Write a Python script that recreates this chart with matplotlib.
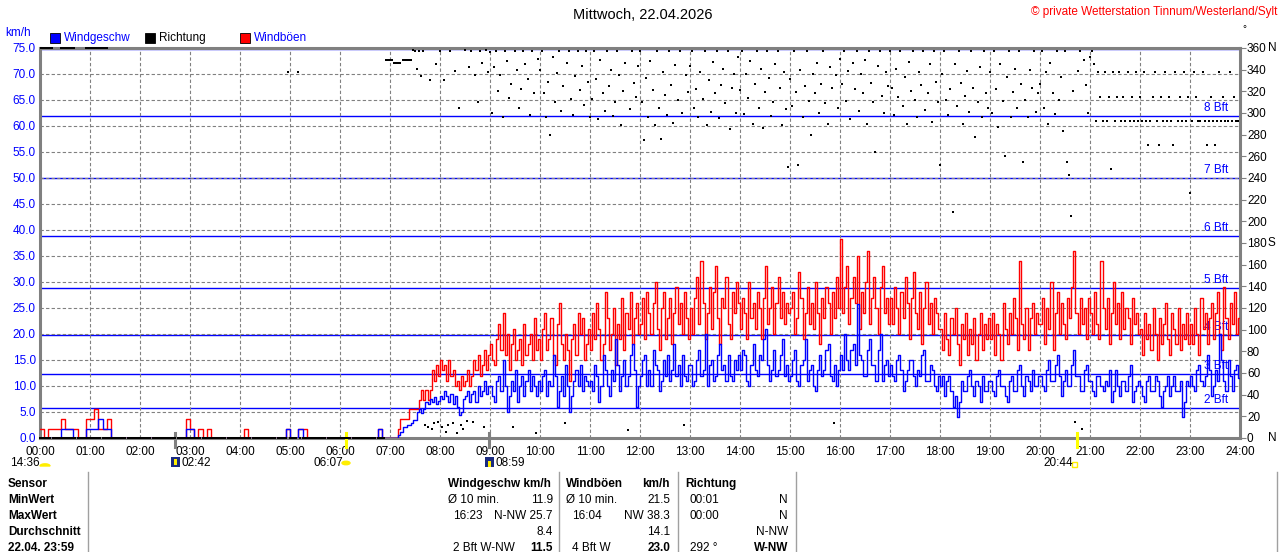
import numpy as np
import matplotlib
matplotlib.use("Agg")
import matplotlib.pyplot as plt
from matplotlib.lines import Line2D
from matplotlib.patches import Rectangle, Circle, Wedge
from matplotlib import transforms

plt.rcParams['font.family'] = ['Liberation Sans', 'DejaVu Sans']
plt.rcParams['lines.scale_dashes'] = False

# === data: values per hour (km/h), evenly spaced inside each hour ===
# night hours at 5 minutes, day hours at 2.5 minutes
wind_rows = [
    [0, 0, 0, 0, 0, 1.8, 1.8, 1.8, 0, 0, 0, 1.8],
    [1.8, 1.8, 3.7, 1.8, 1.8, 0, 0, 0, 0, 0, 0, 0],
    [0, 0, 0, 0, 0, 0, 0, 0, 0, 0, 0, 1.8],
    [1.8, 0, 0, 0, 0, 0, 0, 0, 0, 0, 0, 0],
    [0, 0, 0, 0, 0, 0, 0, 0, 0, 0, 0, 1.8],
    [0, 0, 1.8, 0, 0, 0, 0, 0, 0, 0, 0, 0],
    [0, 0, 0, 0, 0, 0, 0, 0, 0, 1.8, 0, 0],
    [0, 0, 0, 0, 0.5, 1.2, 2.2, 2.2, 2.5, 2.5, 2.8, 3.5, 3.5, 5.0, 5.5, 4.8, 5.5, 7.0, 6.5, 7.5, 7.0, 7.8, 6.5, 7.2],
    [8, 7.5, 9, 8, 7, 8.5, 6.5, 8, 6, 4.5, 5, 7.5, 8, 9, 7, 8.5, 9, 7, 10, 8, 9, 11, 8.5, 10],
    [10, 8, 7, 11, 12, 9, 15, 10, 5, 8, 11, 9, 13, 7, 10, 12, 8, 11, 13, 9, 12, 10, 8, 11],
    [9, 12, 13, 8, 11, 10, 16, 12, 6, 9, 12, 8, 14, 10, 5, 8, 11, 13, 10, 14, 9, 12, 11, 10],
    [11, 9, 14, 12, 7, 10, 16, 13, 10, 8, 13, 11, 19, 14, 9, 12, 15, 10, 12, 16, 18, 13, 6, 10],
    [12, 15, 16, 10, 13, 10, 17, 14, 13, 9, 11, 15, 12, 16, 11, 13, 18, 12, 14, 10, 16, 12, 11, 14],
    [14, 10, 11, 15, 17, 12, 13, 20, 10, 14, 15, 11, 12, 16, 18, 13, 14, 11, 16, 12, 11, 15, 13, 16],
    [13, 17, 16, 11, 10, 14, 18, 13, 12, 16, 15, 19, 21, 14, 11, 13, 17, 12, 13, 16, 19, 12, 14, 11],
    [12, 15, 17, 11, 10, 14, 15, 19, 11, 13, 14, 10, 9, 13, 16, 12, 13, 17, 18, 12, 11, 14, 10, 13],
    [16, 13, 20, 15, 13, 17, 18, 14, 25.7, 16, 15, 12, 12, 17, 19, 14, 14, 11, 17, 20, 11, 14, 15, 12],
    [14, 12, 11, 15, 16, 13, 9, 11, 13, 15, 15, 12, 10, 13, 12, 16, 17, 11, 11, 14, 13, 10, 9, 12],
    [10, 12, 8, 11, 12, 9, 6, 8, 4, 7, 11, 9, 9, 12, 13, 10, 8, 11, 10, 7, 12, 9, 9, 11],
    [11, 9, 8, 12, 13, 10, 10, 8, 7, 11, 12, 9, 9, 13, 14, 10, 8, 12, 11, 9, 13, 10, 10, 12],
    [12, 10, 9, 13, 15, 11, 11, 14, 16, 12, 8, 11, 13, 10, 10, 14, 17, 12, 12, 9, 9, 13, 14, 11],
    [11, 9, 8, 12, 12, 10, 9, 11, 10, 13, 7, 9, 13, 10, 8, 11, 11, 9, 12, 14, 7, 9, 10, 11],
    [10, 8, 7, 11, 12, 9, 9, 12, 11, 8, 6, 9, 10, 12, 8, 10, 12, 9, 9, 11, 4, 7, 11, 10],
    [12, 10, 9, 13, 14, 11, 10, 12, 16, 13, 8, 10, 13, 11, 20, 15, 11, 9, 15, 12, 9, 13, 14, 11.5],
]

gust_rows = [
    [1.8, 0, 1.8, 1.8, 1.8, 3.7, 1.8, 1.8, 1.8, 0, 0, 3.7],
    [3.7, 5.5, 1.8, 1.8, 3.7, 0, 0, 0, 0, 0, 0, 0],
    [0, 0, 0, 0, 0, 0, 0, 0, 0, 0, 0, 3.7],
    [1.8, 0, 1.8, 0, 1.8, 0, 0, 0, 0, 0, 0, 0],
    [0, 1.8, 0, 0, 0, 0, 0, 0, 0, 0, 0, 1.8],
    [0, 0, 1.8, 1.8, 0, 0, 0, 0, 0, 0, 0, 0],
    [0, 0, 0, 0, 0, 0, 0, 0, 0, 1.8, 0, 0],
    [0, 0, 0, 0, 1.8, 3.7, 3.7, 3.7, 3.7, 5.5, 5.5, 5.5, 5.5, 5.5, 7.4, 9.2, 7.4, 9.2, 7.4, 9.2, 13, 11, 14, 12],
    [15, 13, 14, 11, 15, 12, 13, 10, 11, 9.2, 12, 10, 11, 13, 10, 12, 15, 13, 16, 12, 14, 17, 13, 16],
    [18, 15, 14, 19, 22, 17, 24, 16, 20, 13, 18, 21, 15, 17, 19, 14, 22, 16, 18, 20, 15, 23, 17, 19],
    [15, 21, 24, 17, 19, 23, 16, 14, 22, 26, 18, 15, 20, 17, 11, 19, 22, 16, 24, 20, 23, 15, 18, 21],
    [17, 24, 19, 26, 21, 15, 18, 28, 23, 17, 20, 25, 14, 22, 19, 27, 17, 24, 21, 28, 18, 23, 26, 20],
    [22, 27, 19, 28, 24, 20, 26, 30, 21, 17, 25, 28, 19, 23, 27, 18, 24, 29, 22, 26, 20, 28, 23, 19],
    [25, 20, 27, 31, 22, 34, 26, 19, 24, 29, 21, 28, 33, 23, 18, 27, 25, 31, 22, 19, 28, 24, 30, 26],
    [21, 27, 24, 19, 30, 23, 26, 21, 28, 25, 19, 27, 33, 22, 25, 29, 20, 26, 31, 23, 28, 22, 26, 24],
    [25, 28, 20, 23, 32, 27, 19, 24, 29, 22, 26, 21, 30, 24, 18, 27, 23, 29, 26, 20, 28, 23, 31, 25],
    [38.3, 24, 29, 33, 22, 27, 31, 26, 35, 21, 28, 24, 30, 36, 22, 27, 31, 25, 20, 29, 33, 24, 27, 22],
    [27, 22, 29, 25, 20, 28, 23, 31, 26, 19, 27, 32, 24, 21, 28, 18, 25, 30, 22, 26, 20, 27, 24, 21],
    [21, 17, 24, 19, 16, 23, 20, 25, 18, 14, 22, 19, 24, 16, 21, 18, 23, 15, 20, 24, 17, 22, 19, 23],
    [19, 24, 16, 22, 20, 15, 26, 21, 18, 24, 20, 27, 23, 17, 34, 22, 19, 25, 17, 23, 26, 20, 24, 22],
    [22, 27, 18, 25, 21, 30, 17, 24, 28, 20, 26, 22, 19, 27, 23, 29, 36, 24, 20, 27, 22, 25, 19, 27],
    [24, 20, 28, 22, 19, 34, 25, 21, 27, 18, 24, 30, 22, 26, 19, 28, 21, 25, 23, 18, 27, 22, 24, 20],
    [21, 16, 24, 19, 22, 17, 25, 20, 15, 23, 18, 22, 26, 19, 16, 24, 21, 18, 25, 17, 22, 19, 24, 18],
    [22, 18, 25, 20, 16, 27, 21, 24, 18, 23, 26, 19, 24, 28, 20, 17, 29, 23, 19, 26, 22, 28, 20, 23],
]

# direction in degrees, 2.5-minute values per hour
Z = 0
dir_rows = [
    [Z] * 24, [Z] * 24, [Z] * 24, [Z] * 24,
    [Z] * 23 + [338],
    [Z, Z, Z, Z, 338] + [Z] * 19,
    [Z] * 22 + [349, 349],
    [349, 349, 346, 346, 346, 346, 349, 349, 349, 349, 349, 358, 357, 341, 357, 334, 357, 12, 10, 330, 8, 14, 345, 15],
    [357, 10, 330, 6, 12, 357, 14, 339, 5, 305, 12, 8, 358, 16, 342, 357, 15, 335, 310, 357, 346, 10, 358, 338],
    [356, 300, 342, 357, 320, 335, 296, 357, 348, 314, 327, 10, 357, 340, 305, 322, 357, 345, 331, 298, 357, 318, 5, 350],
    [340, 357, 318, 296, 329, 280, 352, 310, 337, 357, 302, 325, 14, 346, 357, 313, 298, 334, 357, 321, 343, 307, 357, 329],
    [296, 313, 357, 331, 294, 349, 318, 302, 357, 325, 340, 297, 310, 357, 335, 289, 320, 346, 7, 304, 357, 328, 315, 343],
    [357, 310, 275, 332, 296, 348, 321, 289, 357, 305, 276, 338, 317, 298, 357, 326, 291, 344, 312, 357, 300, 12, 335, 319],
    [343, 357, 305, 322, 296, 338, 313, 357, 289, 330, 301, 347, 318, 357, 295, 326, 341, 309, 357, 285, 323, 336, 300, 352],
    [321, 357, 299, 336, 314, 348, 290, 327, 357, 305, 341, 286, 319, 357, 332, 297, 310, 345, 357, 323, 289, 338, 304, 250],
    [331, 306, 357, 319, 252, 340, 296, 325, 357, 311, 280, 336, 318, 346, 300, 327, 357, 309, 290, 342, 323, 14, 335, 305],
    [350, 327, 357, 311, 339, 294, 346, 322, 357, 302, 336, 318, 349, 290, 357, 328, 310, 264, 343, 357, 316, 300, 338, 325],
    [357, 323, 298, 341, 315, 357, 306, 333, 290, 347, 320, 357, 312, 296, 338, 326, 357, 303, 318, 345, 292, 357, 329, 310],
    [252, 336, 357, 312, 298, 322, 209, 345, 306, 357, 328, 290, 316, 339, 301, 357, 323, 278, 310, 342, 296, 357, 318, 305],
    [338, 300, 357, 322, 287, 345, 311, 260, 333, 357, 296, 319, 341, 305, 357, 327, 255, 312, 296, 340, 323, 357, 301, 318],
    [327, 357, 305, 338, 290, 346, 318, 299, 357, 312, 333, 283, 357, 255, 243, 205, 320, 15, 339, 357, 8, 349, 326, 300],
    [352, 357, 345, 292.5, 337.5, 315, 292.5, 337.5, 292.5, 315, 248, 337.5, 292.5, 315, 337.5, 292.5, 315, 292.5, 337.5, 292.5, 315, 292.5, 337.5, 292.5],
    [315, 292.5, 337.5, 292.5, 270, 292.5, 315, 337.5, 292.5, 270, 315, 292.5, 337.5, 292.5, 315, 292.5, 270, 337.5, 292.5, 315, 292.5, 337.5, 292.5, 315],
    [226, 292.5, 337.5, 315, 292.5, 292.5, 337.5, 292.5, 270, 292.5, 315, 292.5, 270, 292.5, 337.5, 292.5, 315, 292.5, 292.5, 337.5, 292.5, 315, 292.5, 292.5],
]
# minutes of the night when direction also showed 360
dir_top_night = [(0, 16), (24, 42), (54, 82)]

# beaufort lower bounds (km/h) and labels
bft_bounds = [5.76, 12.24, 19.8, 28.8, 38.88, 50.04, 61.92, 74.88]
bft_labels = ["2 Bft", "3 Bft", "4 Bft", "5 Bft", "6 Bft", "7 Bft", "8 Bft", ""]

hour_labels = ["%02d:00" % h for h in range(25)]
astro_marks = [(162, "gray"), (539, "gray"), (367, "yellow"), (1244, "yellow")]

# table texts
row_names = ["Sensor", "MinWert", "MaxWert", "Durchschnitt", "22.04. 23:59"]
wind_left = ["Ø 10 min.", "16:23", "", "2 Bft W-NW"]
wind_right = ["11.9", "N-NW 25.7", "8.4", "11.5"]
gust_left = ["Ø 10 min.", "16:04", "", "4 Bft W"]
gust_right = ["21.5", "NW 38.3", "14.1", "23.0"]
dir_left = ["00:01", "00:00", "", "292 °"]
dir_right = ["N", "N", "N-NW", "W-NW"]


def series(rows):
    t, v = [], []
    for h, r in enumerate(rows):
        n = len(r)
        t.extend(h * 60 + np.arange(n) * 60.0 / n)
        v.extend(r)
    return np.array(t), np.array(v, dtype=float)


t_wind, wind = series(wind_rows)
t_gust, gust = series(gust_rows)
t_dir, direc = series(dir_rows)

W, H = 1280, 552
def fx(x): return x / W
def fy(y): return 1 - y / H

BLUE = "#0000ff"
RED = "#ff0000"
GRAY = "#808080"
FS = 8.5

fig = plt.figure(figsize=(12.8, 5.52), dpi=100)
ax = fig.add_axes([fx(40), fy(438), 1200 / W, 390 / H])
ax.set_xlim(0, 1440)
ax.set_ylim(0, 75)

ax.set_xticks(np.arange(0, 1441, 60))
ax.set_xticklabels(hour_labels, fontsize=FS)
ax.set_yticks(np.arange(0, 75.1, 5))
ax.set_yticklabels(["%.1f" % v for v in np.arange(0, 75.1, 5)], fontsize=FS, color=BLUE)
ax.tick_params(axis="both", length=0, pad=3)
ax.tick_params(axis="x", pad=6)
ax.grid(True, color=GRAY, lw=0.8, linestyle=(0, (2.4, 1.6)))
for s in ax.spines.values():
    s.set_color(GRAY)
    s.set_linewidth(2.2)

for b, lab in zip(bft_bounds, bft_labels):
    ax.axhline(b, color=BLUE, lw=1.0, zorder=1.5)
    if lab:
        ax.text(1397, b + 0.4, lab, color=BLUE, fontsize=FS, ha="left", va="bottom", zorder=1.6)

ax.step(np.append(t_gust, 1440), np.append(gust, gust[-1]), where="post", color=RED, lw=1.0, zorder=3)
ax.step(np.append(t_wind, 1440), np.append(wind, wind[-1]), where="post", color=BLUE, lw=1.0, zorder=4)

ax2 = ax.twinx()
ax2.set_ylim(0, 360)
ax2.set_yticks(np.arange(0, 361, 20))
ax2.set_yticklabels([str(v) for v in range(0, 361, 20)], fontsize=FS)
ax2.tick_params(axis="y", length=4, color=GRAY, pad=1)
for s in ax2.spines.values():
    s.set_visible(False)
ax2.plot(t_dir, direc, linestyle="none", marker="s", ms=1.9, mew=0, color="black", clip_on=False, zorder=5)
for a, b in dir_top_night:
    ax2.plot([a, b], [360, 360], color="black", lw=1.4, solid_capstyle="butt", clip_on=False)

# astro marks below axis
trans = transforms.blended_transform_factory(ax.transData, fig.transFigure)
for tm, c in astro_marks:
    ax.add_line(Line2D([tm, tm], [fy(447), fy(433)], color=c, lw=2.2, transform=trans, clip_on=False, zorder=6))

# right axis compass letters
for y, s in [(48, "N"), (243, "S"), (438, "N")]:
    fig.text(fx(1268), fy(y), s, fontsize=FS, va="center", ha="left")

# titles and labels
fig.text(fx(643), fy(15), "Mittwoch, 22.04.2026", ha="center", va="center", fontsize=10.5)
fig.text(fx(1277), fy(12), "© private Wetterstation Tinnum/Westerland/Sylt", ha="right", va="center", fontsize=FS, color=RED)
fig.text(fx(1242), fy(29), "°", ha="left", va="center", fontsize=7)
fig.text(fx(5), fy(33), "km/h", ha="left", va="center", fontsize=FS, color=BLUE)

for x0, col, name, tcol in [(50, BLUE, "Windgeschw", BLUE), (145, "black", "Richtung", "black"), (240, RED, "Windböen", BLUE)]:
    fig.add_artist(Rectangle((fx(x0), fy(43)), 10 / W, 10 / H, facecolor=col, edgecolor="black", lw=0.6))
    fig.text(fx(x0 + 14), fy(38), name, ha="left", va="center", fontsize=FS, color=tcol)

# sun / moon row
fig.text(fx(10), fy(463), "14:36", ha="left", va="center", fontsize=FS)
fig.add_artist(Wedge((fx(45), fy(466)), 5 / W, 0, 180, facecolor="#ffee00", edgecolor="#ffee00"))
fig.add_artist(Rectangle((fx(171), fy(467)), 9 / W, 10 / H, facecolor="#1a2a80", edgecolor="none"))
fig.add_artist(Rectangle((fx(174), fy(465)), 3 / W, 6 / H, facecolor="#ffee00", edgecolor="none"))
fig.text(fx(181), fy(463), "02:42", ha="left", va="center", fontsize=FS)
fig.text(fx(313), fy(463), "06:07", ha="left", va="center", fontsize=FS)
fig.add_artist(Circle((fx(346), fy(463)), 4 / W, facecolor="#ffee00", edgecolor="#ffee00"))
fig.add_artist(Rectangle((fx(485), fy(467)), 9 / W, 10 / H, facecolor="#1a2a80", edgecolor="none"))
fig.add_artist(Rectangle((fx(488), fy(467)), 3 / W, 6 / H, facecolor="#ffee00", edgecolor="none"))
fig.text(fx(495), fy(463), "08:59", ha="left", va="center", fontsize=FS)
fig.text(fx(1043), fy(463), "20:44", ha="left", va="center", fontsize=FS)
fig.add_artist(Rectangle((fx(1072), fy(467)), 5 / W, 5 / H, facecolor="white", edgecolor="#ffee00", lw=1))

# === table ===
for x in [88, 559, 678, 796, 1277]:
    fig.add_artist(Line2D([fx(x), fx(x)], [fy(472), fy(552)], color="#a0a0a0", lw=1))
rows_y = [484, 500, 516, 532, 548]
for y, name in zip(rows_y, row_names):
    fig.text(fx(8), fy(y), name, ha="left", va="center", fontsize=FS, weight="bold")
fig.text(fx(448), fy(484), "Windgeschw km/h", ha="left", va="center", fontsize=FS, weight="bold")
fig.text(fx(566), fy(484), "Windböen", ha="left", va="center", fontsize=FS, weight="bold")
fig.text(fx(670), fy(484), "km/h", ha="right", va="center", fontsize=FS, weight="bold")
fig.text(fx(685), fy(484), "Richtung", ha="left", va="center", fontsize=FS, weight="bold")
for i, y in enumerate(rows_y[1:]):
    wt = "bold" if i == 3 else "normal"
    fig.text(fx(448 if i == 0 else 453), fy(y), wind_left[i], ha="left", va="center", fontsize=FS)
    fig.text(fx(553), fy(y), wind_right[i], ha="right", va="center", fontsize=FS, weight=wt)
    fig.text(fx(566 if i == 0 else 572), fy(y), gust_left[i], ha="left", va="center", fontsize=FS)
    fig.text(fx(670), fy(y), gust_right[i], ha="right", va="center", fontsize=FS, weight=wt)
    fig.text(fx(690), fy(y), dir_left[i], ha="left", va="center", fontsize=FS)
    fig.text(fx(788), fy(y), dir_right[i], ha="right", va="center", fontsize=FS, weight=wt)

fig.savefig("out.png", dpi=100, facecolor="white")
